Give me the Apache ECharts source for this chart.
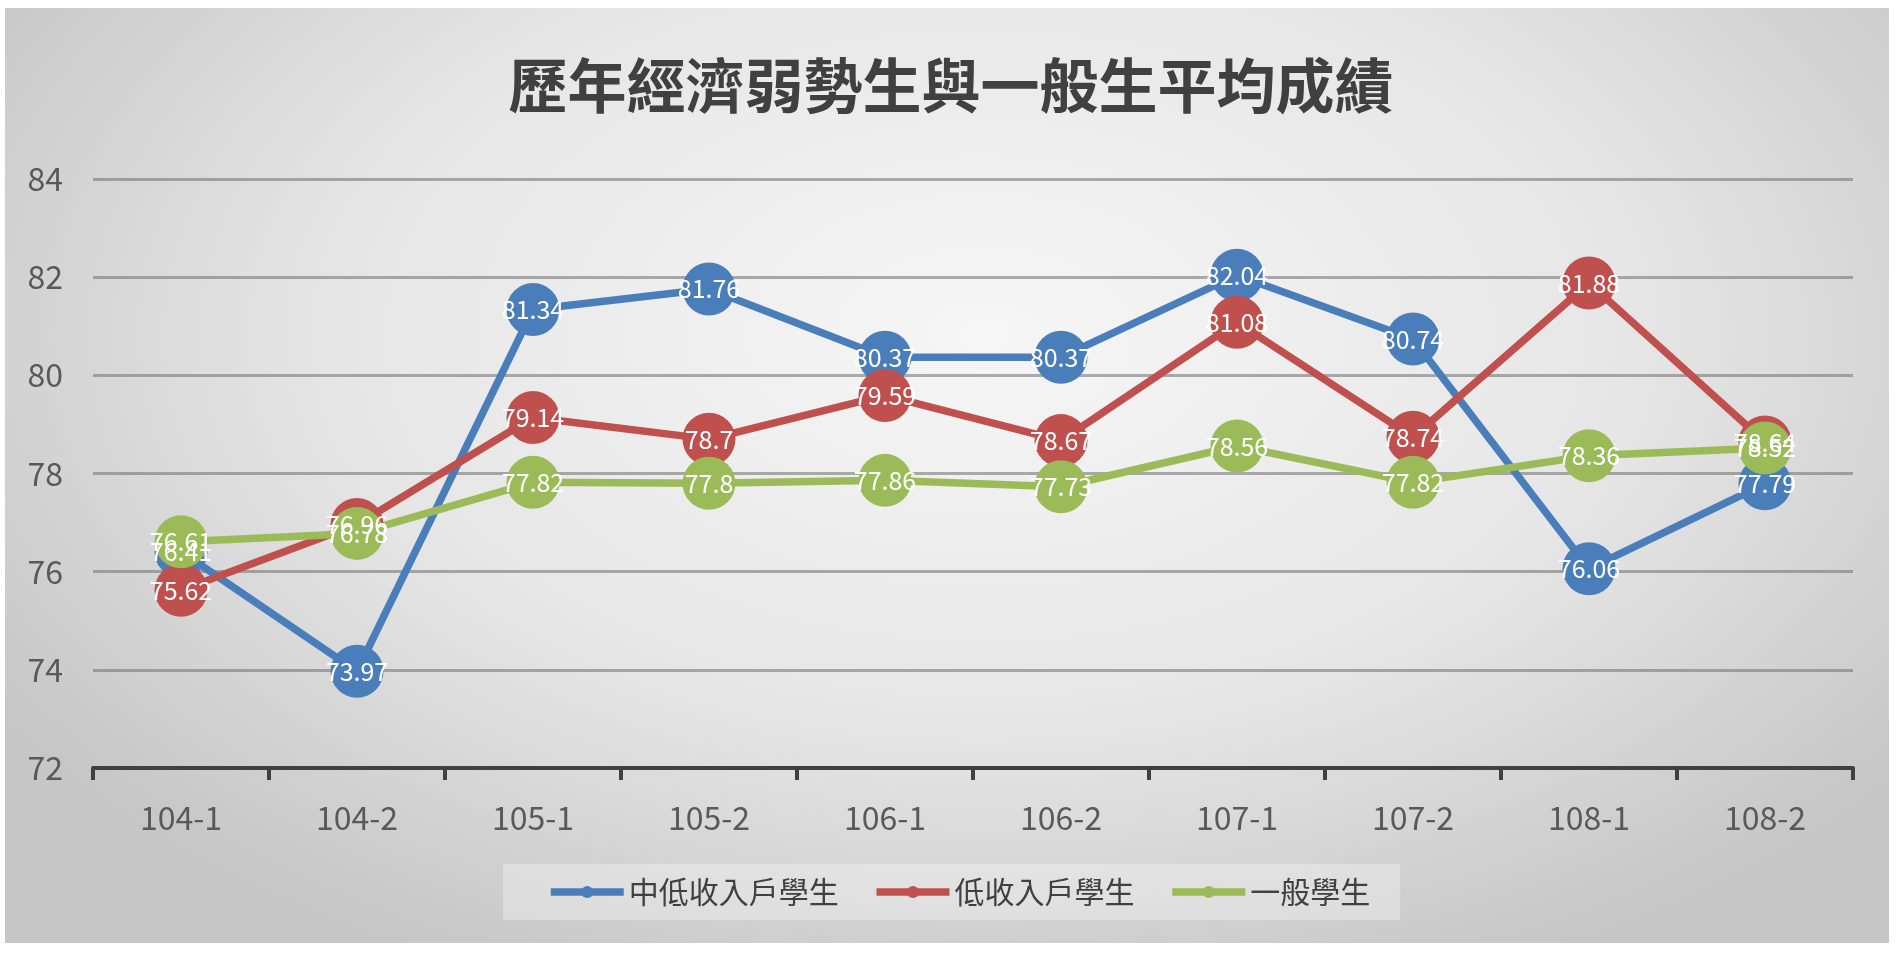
<!DOCTYPE html>
<html>
<head>
<meta charset="utf-8">
<title>歷年經濟弱勢生與一般生平均成績</title>
<script src="https://cdn.jsdelivr.net/npm/echarts@6/dist/echarts.min.js"></script>
<style>
  html, body { margin: 0; padding: 0; background: #fff; }
  #wrap { position: relative; width: 1902px; height: 954px; }
  #bg {
    position: absolute; left: 5px; top: 8px; width: 1884px; height: 935px;
    background: radial-gradient(ellipse 62% 75% at 52% 35%, #f6f6f6 0%, #e6e6e6 55%, #c6c6c6 100%);
  }
  #main { position: absolute; left: 0; top: 0; width: 1902px; height: 954px; }
</style>
</head>
<body>
<div id="wrap">
  <div id="bg"></div>
  <div id="main"></div>
</div>
<script>
const fontCJK = '"Noto Sans CJK TC", "Noto Sans", sans-serif'
const terms = ['104-1', '104-2', '105-1', '105-2', '106-1', '106-2', '107-1', '107-2', '108-1', '108-2']
const seriesNames = ['中低收入戶學生', '低收入戶學生', '一般學生']
const seriesColors = ['#4a7ebb', '#c0504d', '#9bbb59']
// 中低收入戶學生
const midLowIncome = [76.41, 73.97, 81.34, 81.76, 80.37, 80.37, 82.04, 80.74, 76.06, 77.79]
// 低收入戶學生
const lowIncome = [75.62, 76.96, 79.14, 78.7, 79.59, 78.67, 81.08, 78.74, 81.88, 78.64]
// 一般學生
const general = [76.61, 76.78, 77.82, 77.8, 77.86, 77.73, 78.56, 77.82, 78.36, 78.52]
const seriesData = [midLowIncome, lowIncome, general]
const yMin = 72
const yMax = 84
const yStep = 2

const myChart = echarts.init(document.getElementById('main'))

const seriesList = seriesNames.map((name, index) => ({
  name,
  type: 'line',
  data: seriesData[index],
  color: seriesColors[index],
  symbol: 'circle',
  symbolSize: 53,
  lineStyle: { width: 7.5, color: seriesColors[index] },
  itemStyle: { color: seriesColors[index] },
  label: {
    show: true,
    position: 'inside',
    color: '#fff',
    fontSize: 25,
    fontFamily: fontCJK
  },
  emphasis: { disabled: true },
  animation: false
}))

const option = {
  animation: false,
  title: {
    text: '歷年經濟弱勢生與一般生平均成績',
    left: 'center',
    top: 56,
    padding: 0,
    textStyle: {
      color: '#404040',
      fontSize: 59,
      fontWeight: 'bold',
      fontFamily: fontCJK
    }
  },
  legend: {
    left: 503,
    top: 864,
    padding: [13, 30, 13, 44],
    backgroundColor: 'rgba(255,255,255,0.3)',
    itemWidth: 73,
    itemHeight: 15,
    itemGap: 34,
    lineStyle: { width: 7.5 },
    textStyle: {
      color: '#404040',
      fontSize: 30,
      fontFamily: fontCJK
    },
    data: seriesNames
  },
  grid: {
    left: 93,
    right: 49,
    top: 179,
    bottom: 186
  },
  xAxis: {
    type: 'category',
    data: terms,
    boundaryGap: true,
    axisLine: { lineStyle: { color: '#404040', width: 4 } },
    axisTick: { show: true, length: 12, lineStyle: { color: '#404040', width: 4 } },
    axisLabel: {
      color: '#595959',
      fontSize: 32,
      margin: 34,
      fontFamily: fontCJK
    },
    splitLine: { show: false }
  },
  yAxis: {
    type: 'value',
    min: yMin,
    max: yMax,
    interval: yStep,
    axisLine: { show: false },
    axisTick: { show: false },
    axisLabel: {
      color: '#595959',
      fontSize: 32,
      margin: 30,
      fontFamily: fontCJK
    },
    splitLine: { lineStyle: { color: 'rgba(120,120,120,0.6)', width: 3 } }
  },
  series: seriesList
}

myChart.setOption(option, true)
</script>
</body>
</html>
